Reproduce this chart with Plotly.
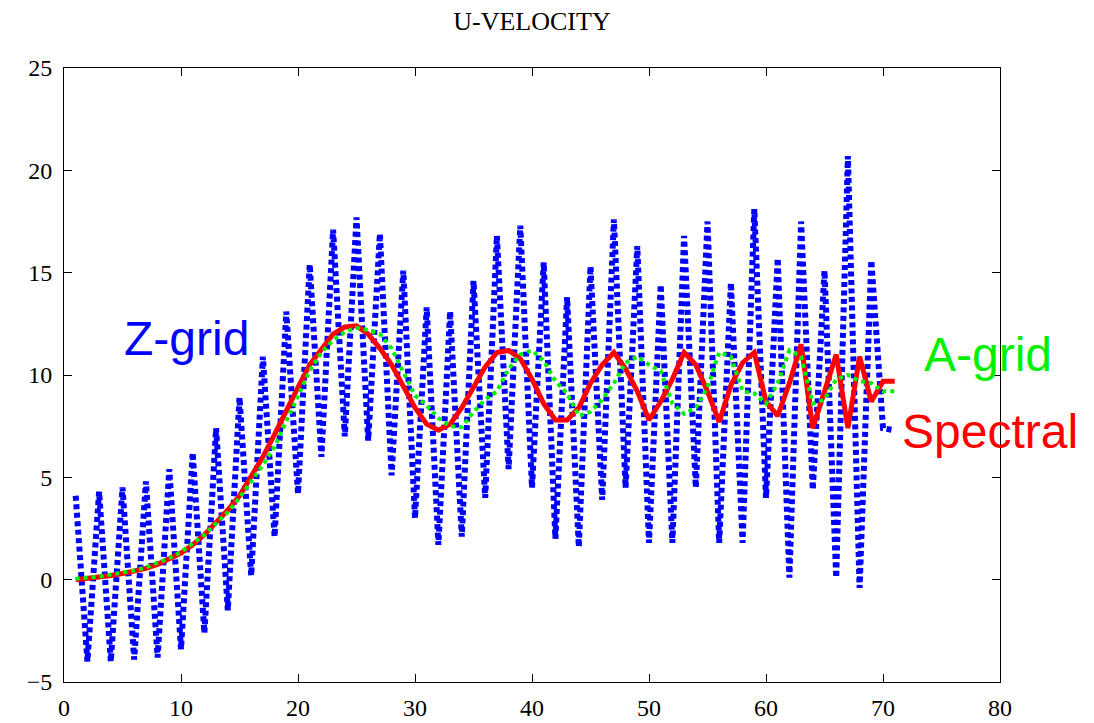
import plotly.graph_objects as go

x_vals = list(range(1, 72))

z_grid = [4.1, -4.0, 4.3, -4.0, 4.5, -3.9, 4.8, -3.8, 5.4, -3.4,
          6.2, -2.6, 7.4, -1.5, 8.9, 0.2, 10.9, 2.1, 13.1, 4.2,
          15.4, 6.0, 17.1, 7.0, 17.7, 6.8, 16.9, 5.1, 15.1, 3.0,
          13.3, 1.7, 13.1, 2.1, 14.6, 4.0, 16.8, 5.4, 17.3, 4.5,
          15.5, 2.0, 13.8, 1.6, 15.3, 3.9, 17.6, 4.5, 16.3, 1.8,
          14.4, 1.8, 16.8, 4.5, 17.5, 1.8, 14.5, 1.8, 18.1, 4.0,
          15.7, 0.1, 17.5, 4.4, 15.1, 0.1, 20.7, -0.4, 15.6, 7.4, 7.3]

spectral = [0.0, 0.05, 0.1, 0.2, 0.3, 0.4, 0.55, 0.75, 1.0, 1.3,
            1.7, 2.2, 2.8, 3.4, 4.1, 5.0, 6.0, 7.1, 8.3, 9.4,
            10.5, 11.3, 12.0, 12.35, 12.4, 12.0, 11.3, 10.5, 9.5, 8.4,
            7.6, 7.3, 7.6, 8.4, 9.4, 10.4, 11.1, 11.2, 10.8, 9.8,
            8.6, 7.8, 7.8, 8.4, 9.6, 10.5, 11.1, 10.3, 9.2, 7.8,
            8.7, 9.8, 11.1, 10.5, 9.2, 7.7, 9.5, 10.6, 11.1, 8.7,
            8.0, 9.6, 11.5, 7.4, 9.2, 11.0, 7.4, 10.9, 8.7, 9.7, 9.7]

a_grid = [0.05, 0.1, 0.15, 0.25, 0.35, 0.45, 0.6, 0.8, 1.05, 1.35,
          1.75, 2.2, 2.75, 3.3, 4.0, 4.8, 5.6, 6.5, 7.7, 9.0,
          10.2, 11.1, 11.7, 12.1, 12.3, 12.2, 12.0, 11.3, 10.2, 9.0,
          8.5, 7.9, 7.5, 7.45, 8.2, 8.8, 9.2, 10.3, 11.0, 11.2,
          10.7, 9.7, 9.1, 8.0, 8.2, 8.8, 9.6, 10.6, 10.9, 10.5,
          10.2, 8.6, 8.1, 8.4, 9.4, 11.1, 10.9, 9.2, 9.1, 8.6,
          9.6, 11.2, 10.9, 8.6, 8.8, 9.8, 10.0, 9.7, 9.6, 9.2, 9.2]

x_ticks = [0, 10, 20, 30, 40, 50, 60, 70, 80]
y_ticks = [-5, 0, 5, 10, 15, 20, 25]

fig = go.Figure()
fig.add_trace(go.Scatter(x=x_vals, y=z_grid, mode="lines",
                         line=dict(color="#0000ff", width=6, dash="5px,3.5px"),
                         name="Z-grid"))
fig.add_trace(go.Scatter(x=x_vals, y=spectral, mode="lines",
                         line=dict(color="#ff0000", width=5),
                         name="Spectral"))
fig.add_trace(go.Scatter(x=x_vals, y=a_grid, mode="lines",
                         line=dict(color="#00f000", width=4, dash="4px,4px"),
                         name="A-grid"))

label_font = "Liberation Sans, Arial, sans-serif"
fig.add_annotation(x=10.5, y=11.8, text="Z-grid", showarrow=False,
                   font=dict(family=label_font, size=48, color="#0000ff"))
fig.add_annotation(x=79.0, y=11.0, text="A-grid", showarrow=False,
                   font=dict(family=label_font, size=48, color="#00f000"))
fig.add_annotation(x=79.15, y=7.25, text="Spectral", showarrow=False,
                   font=dict(family=label_font, size=48, color="#ff0000"))

axis_common = dict(showgrid=False, zeroline=False, showline=True, linecolor="black",
                   linewidth=1, mirror="ticks", ticks="inside", ticklen=8,
                   tickcolor="black", automargin=False,
                   tickfont=dict(family="Liberation Serif, serif", size=24, color="black"))

W, H = 1086, 715
fig.update_layout(
    template="none",
    width=W, height=H,
    paper_bgcolor="white", plot_bgcolor="white",
    margin=dict(l=56, r=94, t=60, b=41, autoexpand=False),
    showlegend=False,
    title=dict(text="U-VELOCITY", x=(56 + (W - 94)) / 2 / W, xanchor="center",
               y=1 - 13 / H, yanchor="middle",
               font=dict(family="Liberation Serif, serif", size=26, color="black")),
    xaxis=dict(range=[0, 80], tickvals=x_ticks, ticklabelstandoff=4, **axis_common),
    yaxis=dict(range=[-5, 25], tickvals=y_ticks, ticklabelstandoff=6, **axis_common),
)

fig.write_html("out.html")
